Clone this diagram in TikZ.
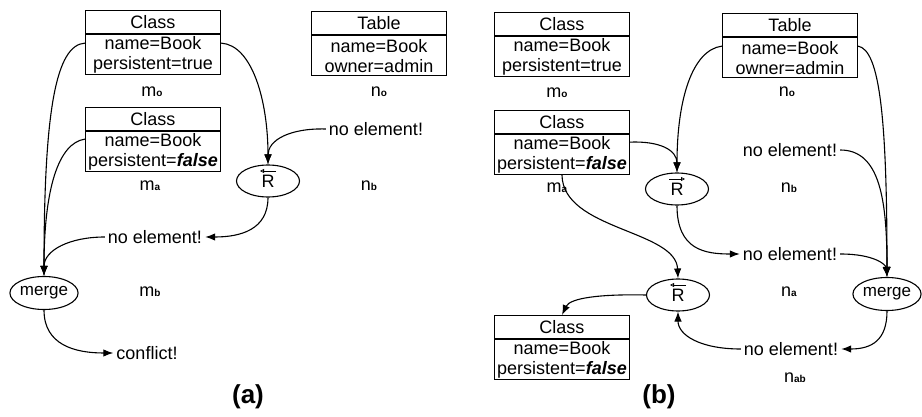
\documentclass[tikz,border=0pt]{standalone}
\usepackage{fontspec}
\setmainfont{Liberation Sans}
\usetikzlibrary{shapes.geometric,arrows.meta}
% small bold index letter after a model name
\newcommand\lowidx[1]{{\fontsize{10}{10}\selectfont\bfseries #1}}
\begin{document}
\begin{tikzpicture}[x=1pt,y=-1pt,
  every node/.style={font=\fontsize{18}{20}\selectfont},
  hdr/.style={draw, line width=1.1pt, minimum width=135pt, minimum height=23pt,
    inner sep=0pt, anchor=north},
  bodybox/.style={draw, line width=1.1pt, minimum width=135pt, minimum height=40pt,
    inner sep=0pt, align=center, anchor=north},
  lbl/.style={inner sep=1pt},
  txt/.style={inner sep=3pt},
  rop/.style={ellipse, draw, line width=1.1pt, minimum width=63pt, minimum height=32pt,
    inner sep=0pt},
  mergeop/.style={ellipse, draw, line width=1.1pt, minimum width=64pt, minimum height=33pt,
    inner sep=0pt, font=\fontsize{17}{18}\selectfont},
  sublabel/.style={font=\fontsize{26}{28}\selectfont\bfseries},
  link/.style={line width=1.1pt, -{Latex[length=10pt,width=7.5pt]}},
  dirmark/.style={line width=0.8pt, -{Triangle[open,length=4pt,width=4pt]}},
]
\useasboundingbox (0,0) rectangle (922,417);

% ---------------- (a) ----------------
\node[hdr] (a1h) at (153,10) {Class};
\node[bodybox] (a1b) at (a1h.south) {name=Book\\persistent=true};
\node[lbl] (a1m) at (152,92) {m\lowidx{o}};
\node[hdr] (a2h) at (153,107) {Class};
\node[bodybox] (a2b) at (a2h.south) {name=Book\\persistent=\textbf{\textit{false}}};
\node[lbl] (a2m) at (150,186) {m\lowidx{a}};
\node[hdr] (ath) at (379,11) {Table};
\node[bodybox] (atb) at (ath.south) {name=Book\\owner=admin};
\node[lbl] (atn) at (379,92) {n\lowidx{o}};
\node[txt] (ane1) at (376,129) {no element!};
\node[rop] (aR) at (268,181) {\raisebox{-2.5pt}{R}};
\draw[dirmark] ([xshift=8pt,yshift=10pt]aR.center) -- ([xshift=-8pt,yshift=10pt]aR.center);
\node[lbl] (anb) at (369,186) {n\lowidx{b}};
\node[txt] (ane2) at (155,237) {no element!};
\node[mergeop] (amg) at (44,293) {merge};
\node[lbl] (amb) at (150,292) {m\lowidx{b}};
\node[txt] (acf) at (147,353) {conflict!};
\node[sublabel] (acap) at (248,397) {(a)};

\draw[link] ([yshift=-9pt]a1b.north west) .. controls (56,45) and (44,110) .. (amg.north);
\draw[link] ([yshift=-8pt]a2b.north west) .. controls (58,143) and (44,190) .. (amg.north);
\draw[link] (ane2.west) .. controls (70,237) and (44,250) .. (amg.north);
\draw[link] ([yshift=-9pt]a1b.north east) .. controls (252,45) and (268,100) .. (aR.north);
\draw[link] (ane1.west) .. controls (290,128) and (268,140) .. (aR.north);
\draw[link] (aR.south) .. controls (268,230) and (240,237) .. (ane2.east);
\draw[link] (amg.south) .. controls (44,345) and (75,353) .. (acf.west);

% ---------------- (b) ----------------
\node[hdr] (b1h) at (562,12) {Class};
\node[bodybox] (b1b) at (b1h.south) {name=Book\\persistent=true};
\node[lbl] (b1m) at (557,93) {m\lowidx{o}};
\node[hdr] (b2h) at (562,110) {Class};
\node[bodybox] (b2b) at (b2h.south) {name=Book\\persistent=\textbf{\textit{false}}};
\node[lbl] (b2m) at (557,188) {m\lowidx{a}};
\node[hdr] (bth) at (790,13) {Table};
\node[bodybox] (btb) at (bth.south) {name=Book\\owner=admin};
\node[lbl] (btn) at (787,92) {n\lowidx{o}};
\node[txt] (bne1) at (790,150) {no element!};
\node[lbl] (bnb) at (789,188) {n\lowidx{b}};
\node[rop] (bR1) at (677,189) {\raisebox{-2.5pt}{R}};
\draw[dirmark] ([xshift=-8pt,yshift=10pt]bR1.center) -- ([xshift=8pt,yshift=10pt]bR1.center);
\node[txt] (bne2) at (790,254) {no element!};
\node[mergeop] (bmg) at (887,294) {merge};
\node[lbl] (bna) at (789,292) {n\lowidx{a}};
\node[rop] (bR2) at (678,295) {\raisebox{-2.5pt}{R}};
\draw[dirmark] ([xshift=8pt,yshift=10pt]bR2.center) -- ([xshift=-8pt,yshift=10pt]bR2.center);
\node[txt] (bne3) at (791,349) {no element!};
\node[lbl] (bnab) at (795,378) {n\lowidx{ab}};
\node[hdr] (b3h) at (562,315) {Class};
\node[bodybox] (b3b) at (b3h.south) {name=Book\\persistent=\textbf{\textit{false}}};
\node[sublabel] (bcap) at (659,397) {(b)};

\draw[link] ([yshift=-9pt]btb.north west) .. controls (692,50) and (677,100) .. (bR1.north);
\draw[link] ([yshift=-8pt]b2b.north east) .. controls (660,141) and (677,150) .. (bR1.north);
\draw[link] (bR1.south) .. controls (677,250) and (705,254) .. (bne2.west);
\draw[link] ([yshift=-9pt]btb.north east) .. controls (880,50) and (887,120) .. (bmg.north);
\draw[link] (bne1.east) .. controls (880,150) and (887,200) .. (bmg.north);
\draw[link] (bne2.east) .. controls (875,254) and (886,265) .. (bmg.north);
\draw[link] (b2b.south) .. controls (563,230) and (676,230) .. (bR2.north);
\draw[link] (bR2.west) .. controls (600,294) and (570,298) .. (b3h.north);
\draw[link] (bne3.west) .. controls (700,349) and (678,335) .. (bR2.south);
\draw[link] (bmg.south) .. controls (887,340) and (872,349) .. (bne3.east);
\end{tikzpicture}
\end{document}
